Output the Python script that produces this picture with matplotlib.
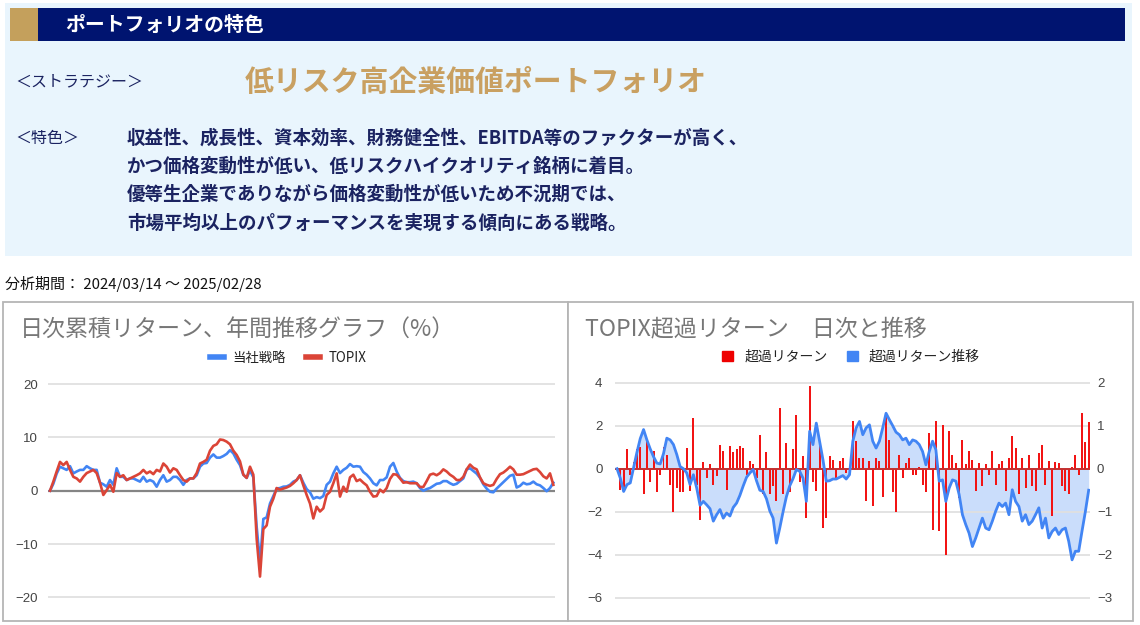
import matplotlib
matplotlib.use('Agg')
import matplotlib.pyplot as plt
from matplotlib.patches import Rectangle, Patch
from matplotlib.lines import Line2D
import numpy as np

plt.rcParams['font.family'] = ['Noto Sans CJK JP', 'DejaVu Sans']

# ---------------- data ----------------
strategy_cum = [
    0, 1.3, 3.2, 4.5, 4.2, 3.9, 4.6, 3.25, 3.6, 3.9,
    3.9, 4.6, 4.2, 3.9, 3.9, 1.5, 1.2, 0.75, 2.0, 1.1,
    4.2, 2.6, 2.6, 2.0, 2.3, 2.3, 2.0, 1.7, 2.6, 1.7,
    2.0, 1.7, 0.75, 2.0, 2.9, 1.7, 2.0, 2.6, 2.6, 2.0,
    1.1, 2.0, 2.3, 2.3, 2.9, 4.5, 5.1, 5.2, 6.2, 6.8,
    6.2, 6.2, 6.5, 6.9, 7.6, 7.0, 5.8, 4.8, 3.0, 2.4,
    3.8, 2.5, -6.75, -13.5, -5.3, -5.0, -2.4, -1.0, 0.4, 0.5,
    0.75, 0.8, 1.1, 1.7, 2.0, 2.9, 1.5,
    0.3, -0.3, -1.5, -1.2, -1.4, -1.0, 1.1, 1.7, 3.25, 4.5,
    3.3, 3.9, 4.3, 5.0, 4.5, 4.6, 4.5, 3.5, 3.0, 2.3,
    1.4, 1.0, 2.0, 2.0, 2.5, 4.5, 5.2, 3.6, 2.4, 1.8,
    1.6, 1.6, 1.7, 1.4, 0.5, 0.0, 0.3, 0.5, 0.9, 1.3,
    1.4, 1.8, 1.8, 1.4, 1.1, 1.3, 1.8, 2.3, 4.0, 4.2,
    3.7, 3.2, 2.4, 1.2, 0.4, -0.2, -0.3, 0.4, 1.0, 1.6,
    2.2, 2.8, 3.0, 0.6, 0.9, 1.5, 1.2, 1.3, 1.7, 1.2,
    1.0, 0.5, -0.1, 0.5, 1.5,
]
topix_cum = [
    0, 1.7, 3.6, 5.4, 4.8, 5.4, 3.9, 2.6, 2.3, 1.7,
    2.6, 3.3, 3.6, 3.9, 3.3, 1.5, -0.8, 0.1, 1.1, -0.2,
    3.3, 2.6, 2.9, 2.0, 2.3, 2.6, 2.9, 3.25, 3.9, 3.25,
    3.6, 3.1, 3.9, 3.6, 5.1, 4.5, 3.4, 4.2, 3.9, 2.9,
    2.0, 1.7, 2.3, 2.3, 3.3, 5.1, 5.4, 5.8, 7.5, 8.4,
    8.7, 9.6, 9.5, 9.2, 8.7, 7.5, 6.7, 5.5, 3.0, 2.4,
    4.5, 3.0, -9.0, -16.1, -7.2, -6.5, -3.0, -1.5, 0.5, 0.2,
    0.4, 0.6, 0.9, 1.4, 2.0, 2.9, 1.0,
    -0.8, -2.4, -5.2, -3.0, -3.9, -3.3, -0.8, -0.2, 1.4, 3.25,
    -1.1, 0.75, -0.2, 2.5, 3.0, 1.8, 2.1, 1.5, 1.0, -0.2,
    -1.1, -1.0, 0.2, -0.3, 0.5, 2.2, 3.1, 3.0, 2.3, 1.5,
    1.6, 1.4, 1.4, 1.4, 0.7, 0.7, 1.8, 3.0, 3.2, 2.9,
    3.3, 4.0, 3.6, 3.0, 2.6, 2.0, 2.0, 2.6, 4.0, 4.9,
    4.3, 4.0, 2.5, 1.4, 1.1, 0.9, 1.1, 2.2, 3.1, 3.4,
    3.9, 4.5, 4.0, 3.0, 3.0, 3.1, 3.4, 3.7, 4.0, 4.1,
    3.5, 2.7, 2.3, 3.25, 1.1,
]
excess_daily = [
    0.0, -1.0, -1.1, 0.93, -0.3, 0.3, 0.9, 1.0, -1.2, 1.3,
    -0.6, 0.8, -1.1, -0.3, 1.0, 0.65, -0.75, -2.0, -0.9, -1.1,
    -1.1, 0.96, -1.05, 2.35, -0.75, -2.37, 0.3, -0.45, 0.2, -0.75,
    -0.35, 1.1, 0.8, -0.98, 1.04, 0.78, 0.9, 1.04, 0.95, -0.3,
    0.35, 0.2, -0.45, 1.58, -1.2, 0.78, -1.2, -0.82, -1.5, 2.8,
    -1.2, 1.2, -1.1, 0.9, 2.5, -0.6, 0.57, -2.3, 3.83, -0.6,
    -1.05, 1.1, -2.76, -2.3, 0.57, 0.4, -0.45, 0.35, 0.5,
    -0.2, 0.1, 2.2, 1.27, 0.5, 0.5, -1.5, 0.35, -1.75, 0.5,
    0.35, -1.3, 2.5, 1.35, -1.1, -2.0, 0.65, -0.45, 0.26, 0.5,
    -0.3, -0.3, 0.1, -0.75, -1.1, 1.66, -2.84, 2.2, -2.9, 2.05,
    -4.0, 1.74, 0.65, 0.26, -1.36, 1.35, 0.2, 0.8, 0.4, -1.05,
    0.26, -0.8, 0.2, -0.3, 0.8, -0.75, 0.2, 0.35, -1.05, 0.5,
    1.5, 0.95, -1.2, 0.5, -0.9, 0.65, -0.82, -1.05, 0.73, 1.1,
    -0.75, 0.35, -2.2, 0.3, 0.26, -0.82, -1.05, -1.2, 0.1, 0.65,
    -0.3, 2.57, 1.26, 2.18,
]
excess_cum = [
    0, -0.22, -0.53, -0.37, -0.33, 0.02, 0.38, 0.7, 0.91, 0.67,
    0.46, 0.28, 0.13, 0.11, 0.35, 0.71, 0.67, 0.56, 0.33, 0.05,
    0.0, -0.1, -0.37, -0.14, -0.45, -0.85, -0.76, -0.84, -0.93, -1.22,
    -1.07, -0.95, -1.15, -1.03, -1.1, -0.9, -0.8, -0.62, -0.4, -0.2,
    -0.1, -0.02, -0.28, -0.5, -0.53, -0.7, -0.98, -1.15, -1.73, -1.38,
    -1.0, -0.65, -0.4, -0.23, -0.02, -0.06, -0.22, -0.76, 0.87, 0.56,
    1.06, 0.64, 0.21, -0.29, -0.28, -0.24, -0.24, -0.2, -0.16,
    -0.24, -0.14, 0.64, 0.95, 1.10, 0.79, 0.95, 1.02, 0.64, 0.48,
    0.64, 0.95, 1.29, 1.14, 1.0, 0.85, 0.79, 0.67, 0.71, 0.56,
    0.67, 0.64, 0.56, 0.40, 0.09, 0.40, 0.64, 0.44, -0.29, -0.26,
    -0.76, -0.45, -0.26, -0.29, -0.60, -1.07, -1.30, -1.50, -1.81, -1.61,
    -1.38, -1.15, -1.38, -1.42, -1.22, -0.99, -0.80, -0.88, -0.80, -1.07,
    -0.49, -0.76, -0.88, -1.22, -1.07, -1.30, -1.22, -1.07, -0.91, -1.38,
    -1.15, -1.61, -1.46, -1.38, -1.53, -1.42, -1.38, -1.69, -2.12, -1.92,
    -1.92, -1.45, -1.0, -0.5,
]
left_yticks = [-20, -10, 0, 10, 20]
right_left_yticks = [-6, -4, -2, 0, 2, 4]
right_right_yticks = [-3, -2, -1, 0, 1, 2]

# ---------------- figure ----------------
W, H = 1140, 625
fig = plt.figure(figsize=(W / 100, H / 100), dpi=100)
fig.patch.set_facecolor('white')

def fx(px):
    return px / W

def fy(py):
    return 1 - py / H

def frect(x0, y0, x1, y1, **kw):
    r = Rectangle((fx(x0), fy(y1)), (x1 - x0) / W, (y1 - y0) / H,
                  transform=fig.transFigure, zorder=-5, **kw)
    fig.add_artist(r)
    return r

NAVY_TXT = '#1b2361'
GOLD = '#c4a05c'

# top panel
frect(5, 3, 1132, 256, facecolor='#e9f5fd', edgecolor='none')
frect(10, 8, 1125, 41, facecolor='#001470', edgecolor='none')
frect(10, 8, 38, 41, facecolor=GOLD, edgecolor='none')
fig.text(fx(65), fy(24.5), 'ポートフォリオの特色', color='white', fontsize=14.3,
         fontweight='bold', va='center', ha='left')
fig.text(fx(15), fy(82), '＜ストラテジー＞', color=NAVY_TXT, fontsize=11.5,
         va='center', ha='left')
fig.text(fx(245), fy(82), '低リスク高企業価値ポートフォリオ', color='#c9a061',
         fontsize=20.8, fontweight='bold', va='center', ha='left')
fig.text(fx(15), fy(138), '＜特色＞', color=NAVY_TXT, fontsize=11.5,
         va='center', ha='left')
body = ['収益性、成長性、資本効率、財務健全性、EBITDA等のファクターが高く、',
        'かつ価格変動性が低い、低リスクハイクオリティ銘柄に着目。',
        '優等生企業でありながら価格変動性が低いため不況期では、',
        '市場平均以上のパフォーマンスを実現する傾向にある戦略。']
for i, line in enumerate(body):
    fig.text(fx(127), fy(138 + i * 28.3), line, color=NAVY_TXT, fontsize=13.3,
             fontweight='bold', va='center', ha='left')

fig.text(fx(5), fy(284), '分析期間： 2024/03/14 ～ 2025/02/28', color='#111111',
         fontsize=10.8, va='center', ha='left')

# chart boxes
frect(3, 302, 568, 621, facecolor='white', edgecolor='#b5b5b5', lw=1.3)
frect(568, 302, 1133, 621, facecolor='white', edgecolor='#b5b5b5', lw=1.3)

fig.text(fx(20), fy(329), '日次累積リターン、年間推移グラフ（%）', color='#777777',
         fontsize=16.6, va='center', ha='left')
fig.text(fx(585), fy(329), 'TOPIX超過リターン　日次と推移', color='#777777',
         fontsize=16.6, va='center', ha='left')

BLUE = '#4285f4'
RED = '#db4437'
BAR_RED = '#f21414'
NUMFONT = ['Liberation Sans', 'DejaVu Sans']

# ---------------- left chart ----------------
yl_top, yl_bot = 378.7, 602.7
axL = fig.add_axes([fx(48), fy(yl_bot), (555 - 48) / W, (yl_bot - yl_top) / H])
axL.patch.set_visible(False)
xl = np.arange(len(strategy_cum))
axL.set_ylim(-21, 21)
axL.set_xlim(-0.6, len(xl) - 0.5)
axL.set_yticks(left_yticks)
axL.set_xticks([])
axL.grid(axis='y', color='#e0e0e0', lw=1.3)
axL.set_axisbelow(True)
for s in axL.spines.values():
    s.set_visible(False)
axL.tick_params(axis='y', length=0, pad=7, labelsize=9.5, labelcolor='#444444')
for t in axL.get_yticklabels():
    t.set_family(NUMFONT)
axL.axhline(0, color='#858585', lw=1.6, zorder=1)
lb, = axL.plot(xl, strategy_cum, color=BLUE, lw=1.9, zorder=3)
lr, = axL.plot(xl, topix_cum, color=RED, lw=1.9, zorder=4)

fig.legend(handles=[Line2D([], [], color=BLUE, lw=4), Line2D([], [], color=RED, lw=4)],
           labels=['当社戦略', 'TOPIX'], loc='center', bbox_to_anchor=(fx(288), fy(358)),
           ncol=2, frameon=False, fontsize=9.6, handlelength=1.1, handletextpad=0.6,
           columnspacing=1.5, labelcolor='#222222')

# ---------------- right chart ----------------
yr_top, yr_bot = 378.4, 602.0
rect_r = [fx(615), fy(yr_bot), (1090 - 615) / W, (yr_bot - yr_top) / H]
xr = np.arange(len(excess_daily))

# bottom layer: cumulative area (right scale)
axFill = fig.add_axes(rect_r, zorder=1)
axFill.patch.set_visible(False)
axFill.set_ylim(-3.1, 2.1)
axFill.set_xlim(-0.6, len(xr) - 0.6)
axFill.axis('off')
axFill.fill_between(xr, excess_cum, 0, color=BLUE, alpha=0.28, lw=0)

# middle layer: daily bars (left scale)
axR = fig.add_axes(rect_r, zorder=2)
axR.patch.set_visible(False)
axR.set_ylim(-6.2, 4.2)
axR.set_xlim(-0.6, len(xr) - 0.6)
axR.set_yticks(right_left_yticks)
axR.set_xticks([])
axR.grid(axis='y', color='#e0e0e0', lw=1.3)
axR.set_axisbelow(True)
for s in axR.spines.values():
    s.set_visible(False)
axR.tick_params(axis='y', length=0, pad=9, labelsize=9.5, labelcolor='#444444')
for t in axR.get_yticklabels():
    t.set_family(NUMFONT)
axR.bar(xr, excess_daily, width=0.6, color=BAR_RED, lw=0, zorder=2,
        antialiased=False)
axR.axhline(0, color='#c43030', lw=1.4, zorder=3)

# top layer: cumulative line (right scale)
axR2 = axR.twinx()
axR2.set_zorder(3)
axR2.patch.set_visible(False)
axR2.set_ylim(-3.1, 2.1)
axR2.set_yticks(right_right_yticks)
for s in axR2.spines.values():
    s.set_visible(False)
axR2.tick_params(axis='y', length=0, pad=5, labelsize=9.5, labelcolor='#444444')
for t in axR2.get_yticklabels():
    t.set_family(NUMFONT)
axR2.plot(xr, excess_cum, color=BLUE, lw=2.0)

fig.legend(handles=[Patch(color='#ee0000'), Patch(color=BLUE)],
           labels=['超過リターン', '超過リターン推移'], loc='center',
           bbox_to_anchor=(fx(851), fy(357)), ncol=2, frameon=False, fontsize=10,
           handlelength=0.8, handleheight=0.8, handletextpad=0.8,
           columnspacing=1.4, labelcolor='#222222')

fig.savefig('out.png', dpi=100)
